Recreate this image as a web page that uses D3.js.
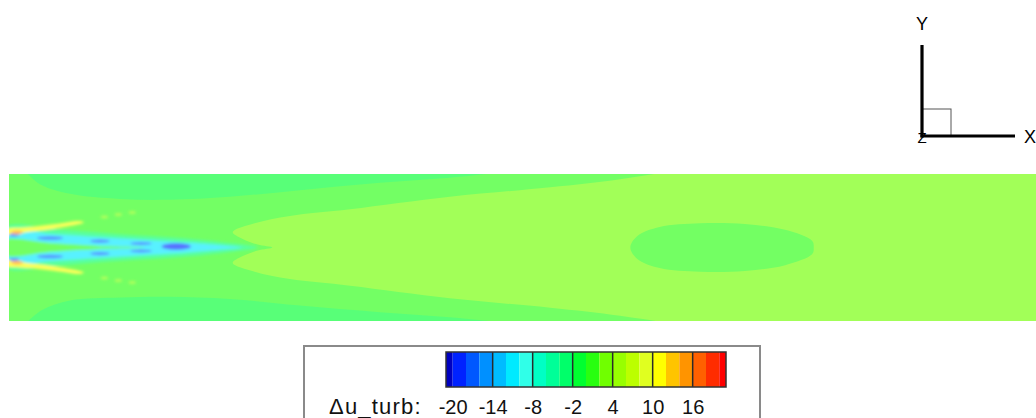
<!DOCTYPE html>
<html>
<head>
<meta charset="utf-8">
<script src="https://cdnjs.cloudflare.com/ajax/libs/d3/7.8.5/d3.min.js"></script>
<style>
  body { margin: 0; background: #fff; }
  svg { display: block; font-family: "Liberation Sans", Arial, sans-serif; }
</style>
</head>
<body>
<svg id="chart" width="1036" height="418"></svg>
<script>
// contour band edges of delta u_turb and the colour of each band
const levels = [-21,-20,-18,-16,-14,-12,-10,-8,-6,-4,-2,0,2,4,6,8,10,12,14,16,18,20,21];
const bandColors = ["#0000c0","#0022ff","#0058ff","#0090ff","#00bcff","#00eaff","#30ffe8","#00ffc4",
  "#00ff98","#00ff6a","#00ff30","#28ff10","#70ff00","#98ff00","#bcff00","#e0ff20","#ffff00",
  "#ffc400","#ff9400","#ff6000","#ff2c00","#ff0000"];
const tickValues = [-20,-14,-8,-2,4,10,16];
const majorLines = [-14,-8,-2,4,10,16];

// field value of the free stream
const backgroundValue = 1;

// contour regions, points are (x/D, y/D), drawn in order
const topBand = [[0.22,1.04],[0.42,0.86],[0.83,0.73],[1.51,0.66],[2.2,0.65],[3.01,0.69],[3.97,0.78],[5.06,0.88],[6.01,0.95],[6.9,1.04]];
const bottomBand = [[0.22,-1.04],[0.45,-0.85],[0.83,-0.72],[1.51,-0.68],[2.2,-0.67],[3.01,-0.7],[3.97,-0.79],[5.06,-0.88],[6.01,-0.95],[6.9,-1.04]];
const coreRegion = [[3.05,0.21],[3.35,0.33],[3.83,0.43],[4.65,0.52],[6.01,0.69],[7.38,0.82],[8.33,0.93],[9.15,1.08],[9.69,1.33],
  [14.87,1.33],[14.87,-1.33],[9.69,-1.33],[9.15,-1.08],[8.33,-0.93],[7.38,-0.82],[6.01,-0.69],[4.65,-0.52],[3.83,-0.43],
  [3.35,-0.33],[3.05,-0.21],[3.18,-0.12],[3.39,-0.04],[3.59,0],[3.39,0.04],[3.18,0.12]];
const wakeBubble = [[8.47,0],[8.57,0.16],[8.87,0.28],[9.42,0.33],[10.03,0.32],[10.58,0.24],[10.95,0.09],[10.97,0],
  [10.95,-0.09],[10.58,-0.24],[10.03,-0.32],[9.42,-0.33],[8.87,-0.28],[8.57,-0.16]];
const jetHalo = [[-0.06,0.27],[0.7,0.24],[1.51,0.18],[2.33,0.13],[3.01,0.06],[3.39,0],[3.01,-0.06],[2.33,-0.13],[1.51,-0.18],[0.7,-0.24],[-0.06,-0.27]];
const jetCore = [[-0.06,0.215],[0.56,0.185],[1.24,0.14],[1.92,0.1],[2.47,0.065],[2.94,0.025],[3.18,0],[2.94,-0.025],[2.47,-0.065],
  [1.92,-0.1],[1.24,-0.14],[0.56,-0.185],[-0.06,-0.215]];
const jetGap = [[-0.06,0.095],[0.56,0.06],[1.24,0.02],[1.85,0],[1.24,-0.02],[0.56,-0.06],[-0.06,-0.1]];
const shearTop = [[-0.06,0.24],[0.29,0.28],[0.63,0.32],[0.97,0.36],[1.02,0.34],[0.63,0.26],[0.29,0.215],[-0.06,0.18]];
const shearBottom = [[-0.06,-0.24],[0.29,-0.28],[0.63,-0.32],[0.97,-0.36],[1.02,-0.34],[0.63,-0.26],[0.29,-0.215],[-0.06,-0.18]];

const regionValues = [-1, -1, 3, 1, -3, -11, 1, 11, 11];
const regionShapes = [topBand, bottomBand, coreRegion, wakeBubble, jetHalo, jetCore, jetGap, shearTop, shearBottom];
const regionOpen = [true, true, false, false, false, false, false, false, false];

// small spots: x, y, rx, ry, value
const spots = [
  [0.56,0.129,0.177,0.024,-17],[1.24,0.088,0.136,0.022,-17],[1.8,0.054,0.15,0.02,-17],
  [0.56,-0.122,0.177,0.024,-17],[1.24,-0.082,0.136,0.022,-17],[1.8,-0.048,0.15,0.02,-17],
  [2.28,0.014,0.2,0.045,-19],[0.07,0.17,0.068,0.02,-17],[0.07,-0.163,0.068,0.02,-17],
  [0.11,0.204,0.082,0.026,15],[0.11,-0.204,0.082,0.026,15],
  [1.3,0.415,0.05,0.018,5],[1.49,0.449,0.05,0.018,5],[1.68,0.476,0.05,0.018,5],
  [1.3,-0.415,0.05,0.018,5],[1.49,-0.449,0.05,0.018,5],[1.68,-0.476,0.05,0.018,5]
];

const svg = d3.select('#chart');

const x = d3.scaleLinear().domain([0, 14]).range([9, 1036]);
const y = d3.scaleLinear().domain([-1, 1]).range([321, 174]);

const band = d3.scaleThreshold().domain(levels.slice(1, -1)).range(bandColors);
// the flood is shown washed out compared with the legend
const fieldColor = v => d3.interpolateRgb(band(v), '#ffffff')(0.35);

const defs = svg.append('defs');
defs.append('clipPath').attr('id', 'fieldClip')
  .append('rect').attr('x', x(0)).attr('y', y(1)).attr('width', x(14) - x(0)).attr('height', y(-1) - y(1));
defs.append('filter').attr('id', 'soft').attr('x', '-20%').attr('y', '-50%').attr('width', '140%').attr('height', '200%')
  .append('feGaussianBlur').attr('stdDeviation', 1.7);
defs.append('filter').attr('id', 'edge')
  .append('feGaussianBlur').attr('stdDeviation', 0.6);

const field = svg.append('g').attr('clip-path', 'url(#fieldClip)');

field.append('rect')
  .attr('x', x(0)).attr('y', y(1))
  .attr('width', x(14) - x(0)).attr('height', y(-1) - y(1))
  .attr('fill', fieldColor(backgroundValue));

const closedLine = d3.line().x(d => x(d[0])).y(d => y(d[1])).curve(d3.curveCatmullRomClosed);
const openLine = d3.line().x(d => x(d[0])).y(d => y(d[1])).curve(d3.curveCatmullRom);

const big = field.append('g').attr('filter', 'url(#edge)');
const jet = field.append('g').attr('filter', 'url(#soft)');

regionShapes.forEach((pts, i) => {
  const target = i < 4 ? big : jet;
  target.append('path')
    .attr('d', regionOpen[i] ? openLine(pts) + 'Z' : closedLine(pts))
    .attr('fill', fieldColor(regionValues[i]));
});

jet.selectAll('ellipse').data(spots).enter().append('ellipse')
  .attr('cx', d => x(d[0]))
  .attr('cy', d => y(d[1]))
  .attr('rx', d => x(d[2]) - x(0))
  .attr('ry', d => y(0) - y(d[3]))
  .attr('fill', d => fieldColor(d[4]));

// axis triad
const triad = svg.append('g');
triad.append('rect').attr('x', 922).attr('y', 109).attr('width', 29).attr('height', 27)
  .attr('fill', 'none').attr('stroke', '#555').attr('stroke-width', 1);
triad.append('line').attr('x1', 922).attr('y1', 45).attr('x2', 922).attr('y2', 137.5)
  .attr('stroke', '#000').attr('stroke-width', 3.2);
triad.append('line').attr('x1', 920.5).attr('y1', 136).attr('x2', 1015).attr('y2', 136)
  .attr('stroke', '#000').attr('stroke-width', 3.2);
triad.append('text').attr('x', 922).attr('y', 30).attr('text-anchor', 'middle')
  .attr('font-size', 18).text('Y');
triad.append('text').attr('x', 1024).attr('y', 143).attr('font-size', 18).text('X');
triad.append('text').attr('x', 922).attr('y', 143).attr('text-anchor', 'middle')
  .attr('font-size', 15).text('Z');

// legend
const legend = svg.append('g');
legend.append('rect').attr('x', 304).attr('y', 346).attr('width', 456).attr('height', 100)
  .attr('fill', '#fff').attr('stroke', '#8a8a8a').attr('stroke-width', 2);

const cb = d3.scaleLinear().domain([-21, 21]).range([446, 726]);
const bands = d3.range(bandColors.length);

legend.selectAll('rect.band').data(bands).enter().append('rect')
  .attr('class', 'band')
  .attr('x', i => cb(levels[i]))
  .attr('y', 352)
  .attr('width', i => cb(levels[i + 1]) - cb(levels[i]))
  .attr('height', 35)
  .attr('fill', i => bandColors[i]);

legend.selectAll('line.major').data(majorLines).enter().append('line')
  .attr('class', 'major')
  .attr('x1', d => cb(d)).attr('x2', d => cb(d))
  .attr('y1', 352).attr('y2', 387)
  .attr('stroke', '#2a2a2a').attr('stroke-width', 1.5);

legend.append('rect').attr('x', cb(-21)).attr('y', 352)
  .attr('width', cb(21) - cb(-21)).attr('height', 35)
  .attr('fill', 'none').attr('stroke', '#333').attr('stroke-width', 1.5);

const cbAxis = legend.append('g').attr('transform', 'translate(0,387)')
  .call(d3.axisBottom(cb).tickValues(tickValues).tickSize(0).tickPadding(13).tickFormat(d => String(d)));
cbAxis.select('.domain').remove();
cbAxis.selectAll('text').attr('font-size', 20).attr('font-family', '"Liberation Sans", Arial, sans-serif').attr('fill', '#111');

legend.append('text').attr('x', 329).attr('y', 414)
  .attr('font-size', 22).attr('fill', '#111')
  .attr('letter-spacing', 1.2)
  .text('Δu_turb:');
</script>
</body>
</html>
